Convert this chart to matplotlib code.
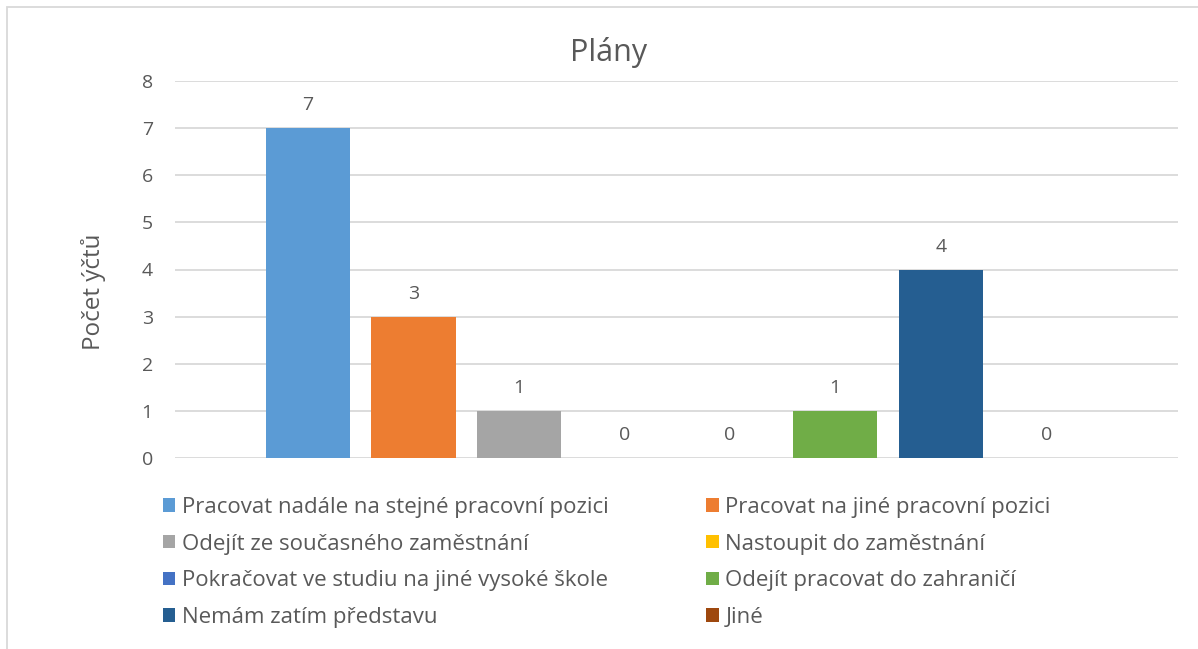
import matplotlib.pyplot as plt
from matplotlib.patches import Rectangle

# data
categories = [
    'Pracovat nadále na stejné pracovní pozici',
    'Pracovat na jiné pracovní pozici',
    'Odejít ze současného zaměstnání',
    'Nastoupit do zaměstnání',
    'Pokračovat ve studiu na jiné vysoké škole',
    'Odejít pracovat do zahraničí',
    'Nemám zatím představu',
    'Jiné',
]
counts = [7, 3, 1, 0, 0, 1, 4, 0]
colors = ['#5B9BD5', '#ED7D31', '#A5A5A5', '#FFC000',
          '#4472C4', '#70AD47', '#255E91', '#9E480E']
y_ticks = [0, 1, 2, 3, 4, 5, 6, 7, 8]

plt.rcParams['font.family'] = ['Open Sans', 'DejaVu Sans']
text_col = '#595959'
grid_col = '#D9D9D9'

fig = plt.figure(figsize=(11.98, 6.49), dpi=100)
ax = fig.add_axes([175 / 1198, 1 - 458 / 649, (1178 - 175) / 1198, (458 - 81) / 649])

bars = []
for i, (lab, v, c) in enumerate(zip(categories, counts, colors)):
    b = ax.bar(i, v, width=0.8, color=c, label=lab, zorder=3)
    bars.append(b[0])
    ax.annotate(str(v), (i, v), xytext=(0, 10), textcoords='offset points',
                ha='center', va='bottom', fontsize=14, color=text_col)

ax.set_xlim(-1.26, 8.25)
ax.set_ylim(0, 8)
ax.set_yticks(y_ticks)
ax.set_xticks([])
ax.tick_params(axis='y', length=0, pad=16, labelsize=14, labelcolor=text_col)
ax.grid(axis='y', color=grid_col, linewidth=1.3, zorder=0)
for s in ax.spines.values():
    s.set_visible(False)

fig.text(609 / 1198, 1 - 52 / 649, 'Plány', ha='center', va='center',
         fontsize=22, color=text_col)
fig.text(93 / 1198, 1 - 292 / 649, 'Počet ýčtů', ha='center', va='center',
         rotation=90, fontsize=17.5, color=text_col)

# legend filled row by row like Excel
order = [0, 2, 4, 6, 1, 3, 5, 7]
fig.legend([bars[k] for k in order], [categories[k] for k in order], ncol=2,
           loc='upper left', bbox_to_anchor=(163 / 1198, 1 - 497 / 649),
           frameon=False, fontsize=16, labelcolor=text_col,
           handlelength=0.55, handleheight=0.55, handletextpad=0.3,
           columnspacing=4.4, labelspacing=0.7,
           borderaxespad=0, borderpad=0)

# chart border (cropped at right/bottom)
fig.patches.append(Rectangle((7 / 1198, -0.1), 2, 1.1 - 7 / 649,
                             transform=fig.transFigure, fill=False,
                             edgecolor=grid_col, linewidth=1.3))

fig.savefig('out.png', dpi=100, facecolor='white')
